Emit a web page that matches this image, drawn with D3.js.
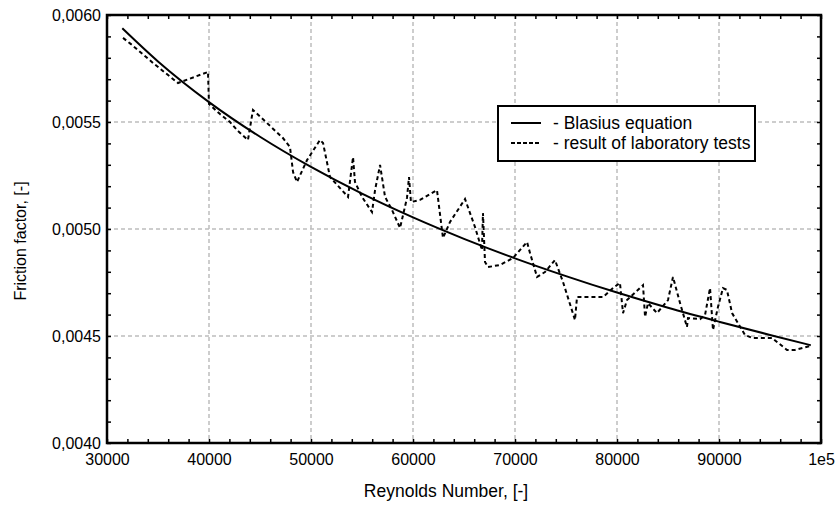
<!DOCTYPE html>
<html>
<head>
<meta charset="utf-8">
<script src="https://cdn.jsdelivr.net/npm/d3@7"></script>
<style>
  body { margin: 0; background: #fff; }
  text { font-family: "Liberation Sans", Arial, sans-serif; fill: #000; }
</style>
</head>
<body>
<svg id="chart"></svg>
<script>
// Blasius equation curve
const blasiusRe = [31500, 35000, 40000, 45000, 50000, 55000, 60000, 65000, 70000, 75000, 80000, 85000, 90000, 95000, 99000]
const blasiusF = [0.005938, 0.005783, 0.005593, 0.005431, 0.005290, 0.005165, 0.005054, 0.004954, 0.004863, 0.004780, 0.004703, 0.004632, 0.004567, 0.004505, 0.004457]

// laboratory tests
const labRe = [31570, 32350, 34510, 36960, 39900, 40000, 41080, 42060, 42840, 43820,
  44310, 45690, 47250, 47940, 48240, 48630, 49610, 50880, 51180, 51860,
  53630, 54120, 54310, 55000, 55980, 56280, 56770, 57260, 57940, 58730,
  59410, 59610, 59800, 60690, 62350, 62940, 63630, 65100, 66080, 66760,
  66860, 67060, 67350, 68530, 69800, 71180, 71470, 72160, 72940, 73920,
  74710, 75880, 76080, 78630, 79610, 80290, 80590, 80980, 82550, 82750,
  83040, 83920, 85000, 85490, 86180, 86860, 86960, 88140, 88630, 89120,
  89410, 89900, 90390, 90780, 91280, 92550, 93240, 95200, 96670, 97450, 98920]
const labF = [0.005893, 0.005864, 0.005776, 0.005682, 0.005734, 0.005584, 0.005537, 0.005500, 0.005458, 0.005416,
  0.005556, 0.005495, 0.005425, 0.005383, 0.005266, 0.005220, 0.005322, 0.005416, 0.005402, 0.005243,
  0.005150, 0.005336, 0.005220, 0.005150, 0.005079, 0.005182, 0.005299, 0.005150, 0.005089, 0.005005,
  0.005145, 0.005243, 0.005126, 0.005136, 0.005182, 0.004958, 0.005033, 0.005140, 0.005009, 0.004902,
  0.005075, 0.004846, 0.004822, 0.004832, 0.004864, 0.004939, 0.004888, 0.004776, 0.004799, 0.004855,
  0.004752, 0.004575, 0.004682, 0.004682, 0.004724, 0.004748, 0.004607, 0.004668, 0.004738, 0.004589,
  0.004654, 0.004607, 0.004668, 0.004776, 0.004654, 0.004542, 0.004584, 0.004579, 0.004598, 0.004724,
  0.004528, 0.004636, 0.004724, 0.004715, 0.004607, 0.004505, 0.004491, 0.004491, 0.004435, 0.004435, 0.004453]

const xTicks = [30000, 40000, 50000, 60000, 70000, 80000, 90000, 100000]
const xTickLabels = ['30000', '40000', '50000', '60000', '70000', '80000', '90000', '1e5']
const yTicks = [0.0040, 0.0045, 0.0050, 0.0055, 0.0060]
const yTickLabels = ['0,0040', '0,0045', '0,0050', '0,0055', '0,0060']
const legendLabels = ['- Blasius equation', '- result of laboratory tests']

// container
    const width = 837
    const height = 506
    const margin = {top: 15, right: 16, bottom: 63, left: 107}
    const w = width - margin.left - margin.right
    const h = height - margin.top - margin.bottom

    const svg = d3.select('#chart')
        .attr('width', width)
        .attr('height', height)
    const g = svg.append('g')
        .attr('transform', `translate(${margin.left},${margin.top})`)

// scales
    const x = d3.scaleLinear().domain([30000, 100000]).range([0, w])
    const y = d3.scaleLinear().domain([0.0040, 0.0060]).range([h, 0])

// grid lines
    g.append('g').selectAll('line')
        .data(xTicks.slice(1, -1))
        .enter().append('line')
            .attr('x1', d => x(d)).attr('x2', d => x(d))
            .attr('y1', 0).attr('y2', h)
            .attr('stroke', '#bdbdbd').attr('stroke-width', 1.5)
            .attr('stroke-dasharray', '4,3')
    g.append('g').selectAll('line')
        .data(yTicks.slice(1, -1))
        .enter().append('line')
            .attr('y1', d => y(d)).attr('y2', d => y(d))
            .attr('x1', 0).attr('x2', w)
            .attr('stroke', '#bdbdbd').attr('stroke-width', 1.5)
            .attr('stroke-dasharray', '4,3')

// inward minor ticks on all sides
    const xMinor = d3.range(30000, 100001, 2000)
    const yMinor = d3.range(40, 61).map(d => d / 10000)
    const tickLen = 4
    g.append('g').call(d3.axisBottom(x).tickValues(xMinor).tickSize(-tickLen).tickFormat(''))
        .attr('transform', `translate(0,${h})`)
    g.append('g').call(d3.axisTop(x).tickValues(xMinor).tickSize(-tickLen).tickFormat(''))
    g.append('g').call(d3.axisLeft(y).tickValues(yMinor).tickSize(-tickLen).tickFormat(''))
    g.append('g').call(d3.axisRight(y).tickValues(yMinor).tickSize(-tickLen).tickFormat(''))
        .attr('transform', `translate(${w},0)`)
    g.selectAll('.domain').remove()
    g.selectAll('.tick line').attr('stroke', '#000').attr('stroke-width', 1.5)

// tick labels
    const xAxis = g.append('g')
        .attr('transform', `translate(0,${h})`)
        .call(d3.axisBottom(x).tickValues(xTicks).tickSize(0).tickPadding(11)
            .tickFormat((d, i) => xTickLabels[i]))
    const yAxis = g.append('g')
        .call(d3.axisLeft(y).tickValues(yTicks).tickSize(0).tickPadding(6)
            .tickFormat((d, i) => yTickLabels[i]))
    ;[xAxis, yAxis].forEach(a => {
        a.select('.domain').remove()
        a.selectAll('text').style('font-size', '16px').style('font-family', '"Liberation Sans", Arial, sans-serif')
    })

// lines
    const line = d3.line().x(d => x(d[0])).y(d => y(d[1]))
    g.append('path')
        .datum(labRe.map((d, i) => [d, labF[i]]))
        .attr('d', line)
        .attr('fill', 'none').attr('stroke', '#000').attr('stroke-width', 2)
        .attr('stroke-dasharray', '4,3')
    g.append('path')
        .datum(blasiusRe.map((d, i) => [d, blasiusF[i]]))
        .attr('d', line.curve(d3.curveMonotoneX))
        .attr('fill', 'none').attr('stroke', '#000').attr('stroke-width', 2)

// frame
    g.append('rect')
        .attr('width', w).attr('height', h)
        .attr('fill', 'none').attr('stroke', '#000').attr('stroke-width', 2.5)

// axis titles
    svg.append('text')
        .attr('x', 446).attr('y', 497)
        .attr('text-anchor', 'middle').style('font-size', '17.5px')
        .text('Reynolds Number, [-]')
    svg.append('text')
        .attr('transform', 'translate(26,241) rotate(-90)')
        .attr('text-anchor', 'middle').style('font-size', '16px')
        .text('Friction factor, [-]')

// legend
    const legend = svg.append('g')
    legend.append('rect')
        .attr('x', 498).attr('y', 106).attr('width', 257).attr('height', 55)
        .attr('fill', '#fff').attr('stroke', '#000').attr('stroke-width', 2)
    legendLabels.forEach((label, i) => {
        const ly = 123 + i * 20
        legend.append('line')
            .attr('x1', 511).attr('x2', 541).attr('y1', ly).attr('y2', ly)
            .attr('stroke', '#000').attr('stroke-width', 2)
            .attr('stroke-dasharray', i === 1 ? '4,2' : null)
        legend.append('text')
            .attr('x', 553).attr('y', ly + 6)
            .style('font-size', '17.5px')
            .text(label)
    })
</script>
</body>
</html>
